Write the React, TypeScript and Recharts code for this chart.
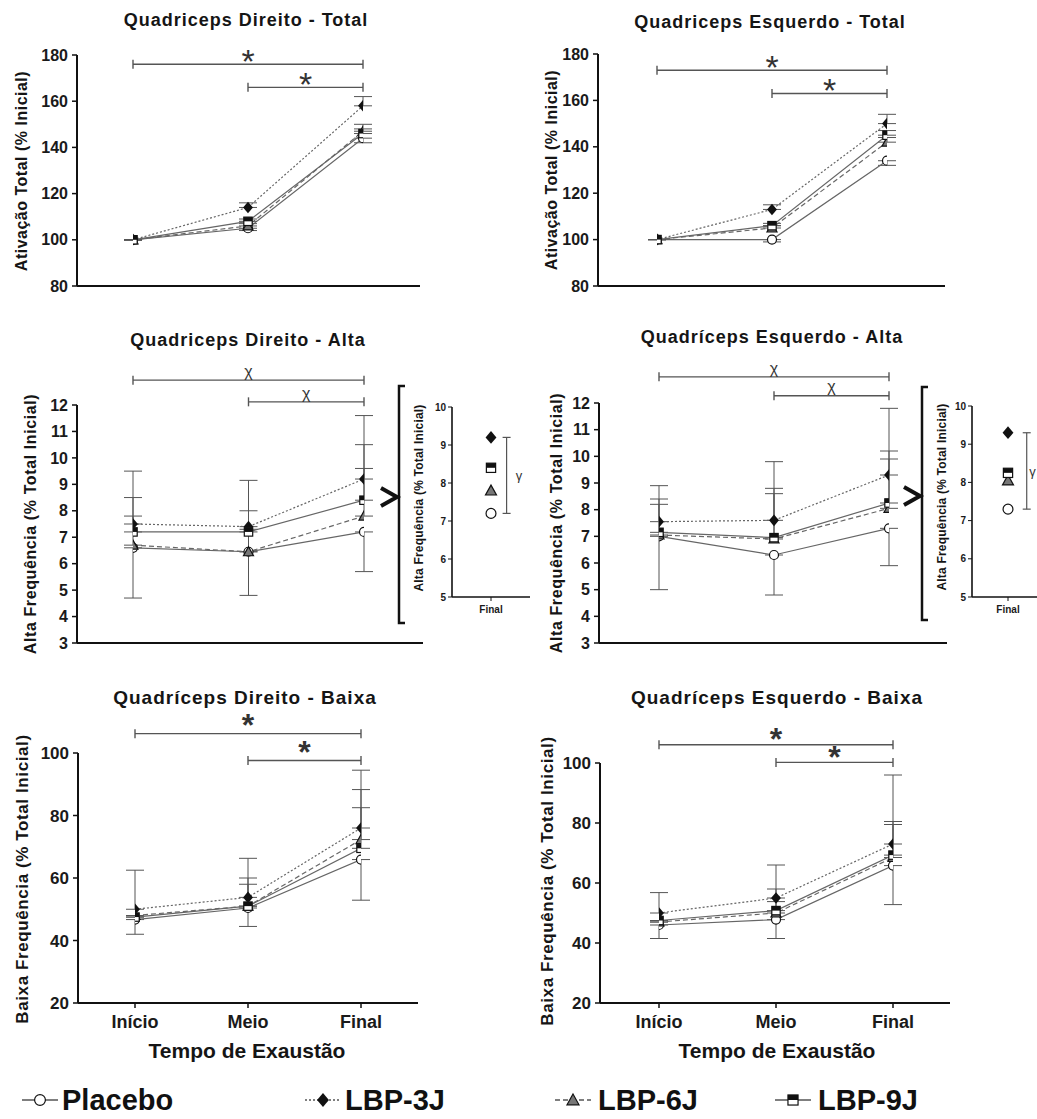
import React from 'react';
import { LineChart, Line, XAxis, YAxis, ErrorBar, ReferenceLine, ReferenceDot } from 'recharts';

const FONT = '"Liberation Sans", Arial, Helvetica, sans-serif';

// ---------- categories ----------
const timeLabels = ['Início', 'Meio', 'Final'];
const timeIdx = [0, 1, 2];

// ---------- tick labels ----------
const totalTicks = [80, 100, 120, 140, 160, 180];
const altaTicks = [3, 4, 5, 6, 7, 8, 9, 10, 11, 12];
const baixaTicks = [20, 40, 60, 80, 100];
const insetTicks = [5, 6, 7, 8, 9, 10];

// ---------- Quadriceps Direito - Total ----------
const dtPlacebo = [100, 105, 144];
const dtLbp3 = [100, 114, 158];
const dtLbp6 = [100, 106, 147];
const dtLbp9 = [100, 108, 146];
const dtPlaceboErr = [[0, 0], [1, 0], [2, 0]];
const dtLbp3Err = [[0, 0], [0, 2], [0, 4]];
const dtLbp6Err = [[0, 0], [0, 1], [0, 3]];
const dtLbp9Err = [[0, 0], [0, 1], [0, 2]];

// ---------- Quadriceps Esquerdo - Total ----------
const etPlacebo = [100, 100, 134];
const etLbp3 = [100, 113, 150];
const etLbp6 = [100, 105, 142];
const etLbp9 = [100, 106, 145];
const etPlaceboErr = [[0, 0], [1, 0], [2, 0]];
const etLbp3Err = [[0, 0], [0, 2], [0, 4]];
const etLbp6Err = [[0, 0], [0, 1], [0, 2]];
const etLbp9Err = [[0, 0], [0, 1], [0, 2]];

// ---------- Quadriceps Direito - Alta ----------
const daPlacebo = [6.6, 6.45, 7.2];
const daLbp3 = [7.5, 7.4, 9.2];
const daLbp6 = [6.7, 6.45, 7.8];
const daLbp9 = [7.2, 7.2, 8.4];
const daPlaceboErr = [[1.9, 0], [1.65, 0], [1.5, 0]];
const daLbp3Err = [[0, 1.0], [0, 1.75], [0, 2.4]];
const daLbp6Err = [[0, 1.1], [0, 0.85], [0, 1.8]];
const daLbp9Err = [[0, 2.3], [0, 0.8], [0, 2.1]];

// ---------- Quadriceps Esquerdo - Alta ----------
const eaPlacebo = [7.0, 6.3, 7.3];
const eaLbp3 = [7.55, 7.6, 9.3];
const eaLbp6 = [7.05, 6.9, 8.05];
const eaLbp9 = [7.15, 6.95, 8.25];
const eaPlaceboErr = [[2.0, 0], [1.5, 0], [1.4, 0]];
const eaLbp3Err = [[0, 1.35], [0, 2.2], [0, 2.5]];
const eaLbp6Err = [[0, 1.15], [0, 1.7], [0, 1.85]];
const eaLbp9Err = [[0, 1.25], [0, 1.85], [0, 1.95]];

// ---------- Quadriceps Direito - Baixa ----------
const dbPlacebo = [46.7, 50.4, 65.9];
const dbLbp3 = [50, 53.8, 76];
const dbLbp6 = [48, 51, 72.3];
const dbLbp9 = [47.5, 51, 69.5];
const dbPlaceboErr = [[4.7, 0], [5.9, 0], [13, 0]];
const dbLbp3Err = [[0, 12.5], [0, 12.5], [0, 18.5]];
const dbLbp6Err = [[0, 0], [0, 7], [0, 16]];
const dbLbp9Err = [[0, 0], [0, 9], [0, 13]];

// ---------- Quadriceps Esquerdo - Baixa ----------
const ebPlacebo = [46, 47.8, 65.8];
const ebLbp3 = [50, 55, 73];
const ebLbp6 = [47, 50, 68.5];
const ebLbp9 = [47.5, 50.8, 69.3];
const ebPlaceboErr = [[4.5, 0], [6.3, 0], [13, 0]];
const ebLbp3Err = [[0, 6.8], [0, 11], [0, 23]];
const ebLbp6Err = [[0, 0], [0, 8], [0, 11]];
const ebLbp9Err = [[0, 0], [0, 3], [0, 11.2]];

// ---------- significance annotations ----------
const dtSig = [{ from: 0, to: 2, y: 176, text: '*' }, { from: 1, to: 2, y: 166, text: '*' }];
const etSig = [{ from: 0, to: 2, y: 173, text: '*' }, { from: 1, to: 2, y: 163, text: '*' }];
const daSig = [{ from: 0, to: 2, y: 12.94, text: 'χ' }, { from: 1, to: 2, y: 12.12, text: 'χ' }];
const eaSig = [{ from: 0, to: 2, y: 12.98, text: 'χ' }, { from: 1, to: 2, y: 12.27, text: 'χ' }];
const dbSig = [{ from: 0, to: 2, y: 106.2, text: '*' }, { from: 1, to: 2, y: 97.6, text: '*' }];
const ebSig = [{ from: 0, to: 2, y: 106.1, text: '*' }, { from: 1, to: 2, y: 100.2, text: '*' }];
const insetSigText = 'γ';

// ---------- series (draw order) ----------
const SERIES = [
  { key: 'placebo', name: 'Placebo', marker: 'circle', dash: undefined as string | undefined },
  { key: 'lbp6', name: 'LBP-6J', marker: 'triangle', dash: '5 3' },
  { key: 'lbp3', name: 'LBP-3J', marker: 'diamond', dash: '2 2' },
  { key: 'lbp9', name: 'LBP-9J', marker: 'square', dash: undefined as string | undefined },
];
const LEGEND_ORDER = ['placebo', 'lbp3', 'lbp6', 'lbp9'];

function buildRows(p: number[], l3: number[], l6: number[], l9: number[], pe: number[][], e3: number[][], e6: number[][], e9: number[][]) {
  return timeIdx.map((x, i) => ({
    x,
    placebo: p[i], lbp3: l3[i], lbp6: l6[i], lbp9: l9[i],
    placeboErr: pe[i], lbp3Err: e3[i], lbp6Err: e6[i], lbp9Err: e9[i],
  }));
}
function buildInset(p: number[], l3: number[], l6: number[], l9: number[]) {
  const last = (a: number[]) => a[a.length - 1];
  return [{ x: 1, placebo: last(p), lbp3: last(l3), lbp6: last(l6), lbp9: last(l9) }];
}

function Marker({ kind, cx, cy, s }: { kind: string; cx: number; cy: number; s: number }) {
  if (cx == null || cy == null || isNaN(cx) || isNaN(cy)) return null;
  if (kind === 'circle') {
    return <circle cx={cx} cy={cy} r={s * 0.45} fill="#fff" stroke="#111" strokeWidth={1.2} />;
  }
  if (kind === 'diamond') {
    const h = s * 0.58;
    return <polygon points={`${cx},${cy - h} ${cx + h * 0.85},${cy} ${cx},${cy + h} ${cx - h * 0.85},${cy}`} fill="#111" />;
  }
  if (kind === 'triangle') {
    const t = s * 0.5;
    return <polygon points={`${cx},${cy - t} ${cx + t},${cy + t * 0.8} ${cx - t},${cy + t * 0.8}`} fill="#777" stroke="#111" strokeWidth={1.2} />;
  }
  const q = s * 0.42;
  return (
    <g>
      <rect x={cx - q} y={cy - q} width={2 * q} height={2 * q} fill="#fff" stroke="#111" strokeWidth={1.2} />
      <rect x={cx - q} y={cy - q} width={2 * q} height={q} fill="#111" />
    </g>
  );
}

type PanelCfg = {
  plotLeft: number; plotRight: number; plotTop: number; plotBottom: number;
  yMin: number; yMax: number; yTicks: number[]; padL: number; padR: number;
  tickFont: number; showX: boolean; sigFont: number; sigWeight: number; sigLift: number;
};

function Panel({ cfg, rows, sig }: { cfg: PanelCfg; rows: any[]; sig: { from: number; to: number; y: number; text: string }[] }) {
  const yw = 60, mt = 60, mr = 10;
  const xh = cfg.showX ? 40 : 20;
  const L = cfg.plotLeft - yw;
  const T = cfg.plotTop - mt;
  const W = cfg.plotRight - L + mr;
  const H = cfg.plotBottom - T + xh;
  const upp = (cfg.yMax - cfg.yMin) / (cfg.plotBottom - cfg.plotTop);
  const capD = 4.5 * upp;
  const sigEls: any[] = [];
  sig.forEach((b, i) => {
    sigEls.push(<ReferenceLine key={`sb${i}`} segment={[{ x: b.from, y: b.y }, { x: b.to, y: b.y }]} stroke="#555" strokeWidth={1.4} ifOverflow="visible" />);
    sigEls.push(<ReferenceLine key={`sl${i}`} segment={[{ x: b.from, y: b.y - capD }, { x: b.from, y: b.y + capD }]} stroke="#555" strokeWidth={1.4} ifOverflow="visible" />);
    sigEls.push(<ReferenceLine key={`sr${i}`} segment={[{ x: b.to, y: b.y - capD }, { x: b.to, y: b.y + capD }]} stroke="#555" strokeWidth={1.4} ifOverflow="visible" />);
    sigEls.push(
      <ReferenceDot key={`st${i}`} x={(b.from + b.to) / 2} y={b.y + cfg.sigLift * upp} r={0} stroke="none" fill="none" ifOverflow="visible"
        label={{ value: b.text, position: 'center', fontSize: cfg.sigFont, fontWeight: cfg.sigWeight, fill: '#333' }} />
    );
  });
  return (
    <div style={{ position: 'absolute', left: L, top: T }}>
      <LineChart width={W} height={H} data={rows} margin={{ top: mt, right: mr, bottom: 0, left: 0 }}>
        <XAxis type="number" dataKey="x" domain={[0, 2]} ticks={timeIdx} allowDataOverflow
          tickFormatter={(v: number) => timeLabels[v] ?? ''}
          padding={{ left: cfg.padL, right: cfg.padR }} height={xh}
          axisLine={{ stroke: '#111', strokeWidth: 2 }} tickLine={{ stroke: '#111', strokeWidth: 1.5 }} tickSize={5} tickMargin={7}
          tick={cfg.showX ? { fontSize: 18, fontWeight: 700, fill: '#1a1a1a' } : false} />
        <YAxis type="number" domain={[cfg.yMin, cfg.yMax]} ticks={cfg.yTicks} allowDataOverflow width={yw} interval={0}
          axisLine={{ stroke: '#111', strokeWidth: 2 }} tickLine={{ stroke: '#111', strokeWidth: 1.5 }} tickSize={5} tickMargin={4}
          tick={{ fontSize: cfg.tickFont, fontWeight: 700, fill: '#1a1a1a' }} />
        {sigEls}
        {SERIES.map((s) => (
          <Line key={s.key} type="linear" dataKey={s.key} stroke="#666" strokeWidth={1.2} strokeDasharray={s.dash}
            isAnimationActive={false} activeDot={false}
            dot={(p: any) => <g key={`${s.key}-${p.index}`}><Marker kind={s.marker} cx={p.cx} cy={p.cy} s={10} /></g>}>
            <ErrorBar dataKey={`${s.key}Err`} width={9} stroke="#555" strokeWidth={1} direction="y" />
          </Line>
        ))}
      </LineChart>
    </div>
  );
}

type InsetCfg = { plotLeft: number; plotRight: number; plotTop: number; plotBottom: number; barX: number; textX: number };

function Inset({ cfg, rows }: { cfg: InsetCfg; rows: any[] }) {
  const yw = 24, mt = 10, mr = 0, xh = 26;
  const L = cfg.plotLeft - yw;
  const T = cfg.plotTop - mt;
  const W = cfg.plotRight - L + mr;
  const H = cfg.plotBottom - T + xh;
  const xupp = 2 / (cfg.plotRight - cfg.plotLeft);
  const capW = 4 * xupp;
  const r = rows[0];
  const lo = r.placebo, hi = r.lbp3;
  return (
    <div style={{ position: 'absolute', left: L, top: T }}>
      <LineChart width={W} height={H} data={rows} margin={{ top: mt, right: mr, bottom: 0, left: 0 }}>
        <XAxis type="number" dataKey="x" domain={[0, 2]} ticks={[1]} allowDataOverflow tickFormatter={() => timeLabels[2]}
          height={xh} axisLine={{ stroke: '#111', strokeWidth: 1.6 }} tickLine={{ stroke: '#111', strokeWidth: 1 }} tickSize={4} tickMargin={5}
          tick={{ fontSize: 10, fontWeight: 700, fill: '#1a1a1a' }} />
        <YAxis type="number" domain={[5, 10]} ticks={insetTicks} allowDataOverflow width={yw} interval={0}
          axisLine={{ stroke: '#111', strokeWidth: 1.6 }} tickLine={{ stroke: '#111', strokeWidth: 1 }} tickSize={4} tickMargin={2}
          tick={{ fontSize: 10, fontWeight: 700, fill: '#1a1a1a' }} />
        <ReferenceLine segment={[{ x: cfg.barX, y: lo }, { x: cfg.barX, y: hi }]} stroke="#555" strokeWidth={1.2} ifOverflow="visible" />
        <ReferenceLine segment={[{ x: cfg.barX - capW, y: lo }, { x: cfg.barX + capW, y: lo }]} stroke="#555" strokeWidth={1.2} ifOverflow="visible" />
        <ReferenceLine segment={[{ x: cfg.barX - capW, y: hi }, { x: cfg.barX + capW, y: hi }]} stroke="#555" strokeWidth={1.2} ifOverflow="visible" />
        <ReferenceDot x={cfg.textX} y={(lo + hi) / 2} r={0} stroke="none" fill="none" ifOverflow="visible"
          label={{ value: insetSigText, position: 'center', fontSize: 13, fill: '#333' }} />
        {SERIES.map((s) => (
          <Line key={s.key} type="linear" dataKey={s.key} stroke="none" isAnimationActive={false} activeDot={false}
            dot={(p: any) => <g key={`${s.key}-${p.index}`}><Marker kind={s.marker} cx={p.cx} cy={p.cy} s={11} /></g>} />
        ))}
      </LineChart>
    </div>
  );
}

function HText({ x, y, size, text, rotate = false, spacing = 0, weight = 700 }: { x: number; y: number; size: number; text: string; rotate?: boolean; spacing?: number; weight?: number }) {
  return (
    <div style={{
      position: 'absolute', left: x, top: y, transform: `translate(-50%, -50%)${rotate ? ' rotate(-90deg)' : ''}`,
      fontSize: size, fontWeight: weight, whiteSpace: 'nowrap', letterSpacing: spacing, lineHeight: 1, color: '#151515',
    }}>{text}</div>
  );
}

function LegendIcon({ kind, dash }: { kind: string; dash?: string }) {
  return (
    <svg width={40} height={24} style={{ display: 'block' }}>
      <line x1={2} y1={12} x2={38} y2={12} stroke="#555" strokeWidth={1.3} strokeDasharray={dash} />
      <Marker kind={kind} cx={20} cy={12} s={12} />
    </svg>
  );
}

const cfgDT: PanelCfg = { plotLeft: 77, plotRight: 420, plotTop: 55, plotBottom: 286, yMin: 80, yMax: 180, yTicks: totalTicks, padL: 56, padR: 57, tickFont: 16, showX: false, sigFont: 34, sigWeight: 400, sigLift: 3.5 };
const cfgET: PanelCfg = { plotLeft: 598, plotRight: 945, plotTop: 54, plotBottom: 286, yMin: 80, yMax: 180, yTicks: totalTicks, padL: 59, padR: 58, tickFont: 16, showX: false, sigFont: 34, sigWeight: 400, sigLift: 3.5 };
const cfgDA: PanelCfg = { plotLeft: 77, plotRight: 423, plotTop: 405, plotBottom: 643, yMin: 3, yMax: 12, yTicks: altaTicks, padL: 56, padR: 59, tickFont: 16, showX: false, sigFont: 16, sigWeight: 400, sigLift: 9 };
const cfgEA: PanelCfg = { plotLeft: 599, plotRight: 947, plotTop: 403, plotBottom: 643, yMin: 3, yMax: 12, yTicks: altaTicks, padL: 60, padR: 58, tickFont: 16, showX: false, sigFont: 16, sigWeight: 400, sigLift: 9 };
const cfgDB: PanelCfg = { plotLeft: 78, plotRight: 418, plotTop: 753, plotBottom: 1003, yMin: 20, yMax: 100, yTicks: baixaTicks, padL: 57, padR: 57, tickFont: 17, showX: true, sigFont: 32, sigWeight: 700, sigLift: 9 };
const cfgEB: PanelCfg = { plotLeft: 600, plotRight: 950, plotTop: 763, plotBottom: 1003, yMin: 20, yMax: 100, yTicks: baixaTicks, padL: 59, padR: 57, tickFont: 17, showX: true, sigFont: 32, sigWeight: 700, sigLift: 6 };

const insetDA: InsetCfg = { plotLeft: 452, plotRight: 530, plotTop: 407, plotBottom: 597, barX: 1.4, textX: 1.72 };
const insetEA: InsetCfg = { plotLeft: 972, plotRight: 1044, plotTop: 406, plotBottom: 597, barX: 1.52, textX: 1.68 };

const legendLayout = [{ icon: 40, text: 62 }, { icon: 323, text: 345 }, { icon: 573, text: 598 }, { icon: 793, text: 818 }];

export default function App() {
  const dtRows = buildRows(dtPlacebo, dtLbp3, dtLbp6, dtLbp9, dtPlaceboErr, dtLbp3Err, dtLbp6Err, dtLbp9Err);
  const etRows = buildRows(etPlacebo, etLbp3, etLbp6, etLbp9, etPlaceboErr, etLbp3Err, etLbp6Err, etLbp9Err);
  const daRows = buildRows(daPlacebo, daLbp3, daLbp6, daLbp9, daPlaceboErr, daLbp3Err, daLbp6Err, daLbp9Err);
  const eaRows = buildRows(eaPlacebo, eaLbp3, eaLbp6, eaLbp9, eaPlaceboErr, eaLbp3Err, eaLbp6Err, eaLbp9Err);
  const dbRows = buildRows(dbPlacebo, dbLbp3, dbLbp6, dbLbp9, dbPlaceboErr, dbLbp3Err, dbLbp6Err, dbLbp9Err);
  const ebRows = buildRows(ebPlacebo, ebLbp3, ebLbp6, ebLbp9, ebPlaceboErr, ebLbp3Err, ebLbp6Err, ebLbp9Err);
  const daInset = buildInset(daPlacebo, daLbp3, daLbp6, daLbp9);
  const eaInset = buildInset(eaPlacebo, eaLbp3, eaLbp6, eaLbp9);

  return (
    <div style={{ position: 'absolute', left: 0, top: 0, width: 1037, height: 1119, overflow: 'hidden', background: '#fff', fontFamily: FONT, color: '#151515' }}>
      <Panel cfg={cfgDT} rows={dtRows} sig={dtSig} />
      <Panel cfg={cfgET} rows={etRows} sig={etSig} />
      <Panel cfg={cfgDA} rows={daRows} sig={daSig} />
      <Panel cfg={cfgEA} rows={eaRows} sig={eaSig} />
      <Panel cfg={cfgDB} rows={dbRows} sig={dbSig} />
      <Panel cfg={cfgEB} rows={ebRows} sig={ebSig} />
      <Inset cfg={insetDA} rows={daInset} />
      <Inset cfg={insetEA} rows={eaInset} />

      {/* titles */}
      <HText x={246} y={20} size={18} spacing={1} text="Quadriceps Direito - Total" />
      <HText x={770} y={22} size={18} spacing={1} text="Quadriceps Esquerdo - Total" />
      <HText x={248} y={340} size={18} spacing={1} text="Quadriceps Direito - Alta" />
      <HText x={772} y={337} size={18} spacing={1} text="Quadríceps Esquerdo - Alta" />
      <HText x={245} y={697} size={19} spacing={1} text="Quadríceps Direito - Baixa" />
      <HText x={777} y={697} size={19} spacing={1} text="Quadríceps Esquerdo - Baixa" />

      {/* y-axis titles */}
      <HText x={22} y={171} size={16} spacing={0.5} rotate text="Ativação Total (% Inicial)" />
      <HText x={552} y={170} size={16} spacing={0.5} rotate text="Ativação Total (% Inicial)" />
      <HText x={31} y={524} size={16} spacing={0.6} rotate text="Alta Frequência (% Total Inicial)" />
      <HText x={557} y={523} size={16} spacing={0.6} rotate text="Alta Frequência (% Total Inicial)" />
      <HText x={22} y={879} size={17} spacing={0.6} rotate text="Baixa Frequência (% Total Inicial)" />
      <HText x={547} y={881} size={17} spacing={0.6} rotate text="Baixa Frequência (% Total Inicial)" />
      <HText x={419} y={498} size={12} spacing={0.2} rotate text="Alta Frequência (% Total Inicial)" />
      <HText x={942} y={497} size={12} spacing={0.2} rotate text="Alta Frequência (% Total Inicial)" />

      {/* x-axis titles */}
      <HText x={247} y={1050} size={21} text="Tempo de Exaustão" />
      <HText x={777} y={1050} size={21} text="Tempo de Exaustão" />

      {/* bracket and arrow decorations */}
      <svg width={1037} height={1119} style={{ position: 'absolute', left: 0, top: 0, pointerEvents: 'none' }}>
        <path d="M405,386 H399 V623 H405" fill="none" stroke="#111" strokeWidth={2.5} />
        <path d="M928,387 H922 V620 H928" fill="none" stroke="#111" strokeWidth={2.5} />
        <polyline points="381,488 397,497 381,506" fill="none" stroke="#111" strokeWidth={4} />
        <polyline points="904,487 920,496 904,505" fill="none" stroke="#111" strokeWidth={4} />
      </svg>

      {/* legend */}
      {LEGEND_ORDER.map((k, i) => {
        const s = SERIES.find((e) => e.key === k)!;
        const pos = legendLayout[i];
        return (
          <React.Fragment key={k}>
            <div style={{ position: 'absolute', left: pos.icon - 20, top: 1100 - 12 }}>
              <LegendIcon kind={s.marker} dash={s.dash} />
            </div>
            <div style={{ position: 'absolute', left: pos.text, top: 1100, transform: 'translateY(-50%)', fontSize: 29, fontWeight: 700, lineHeight: 1, whiteSpace: 'nowrap', color: '#111' }}>
              {s.name}
            </div>
          </React.Fragment>
        );
      })}
    </div>
  );
}
